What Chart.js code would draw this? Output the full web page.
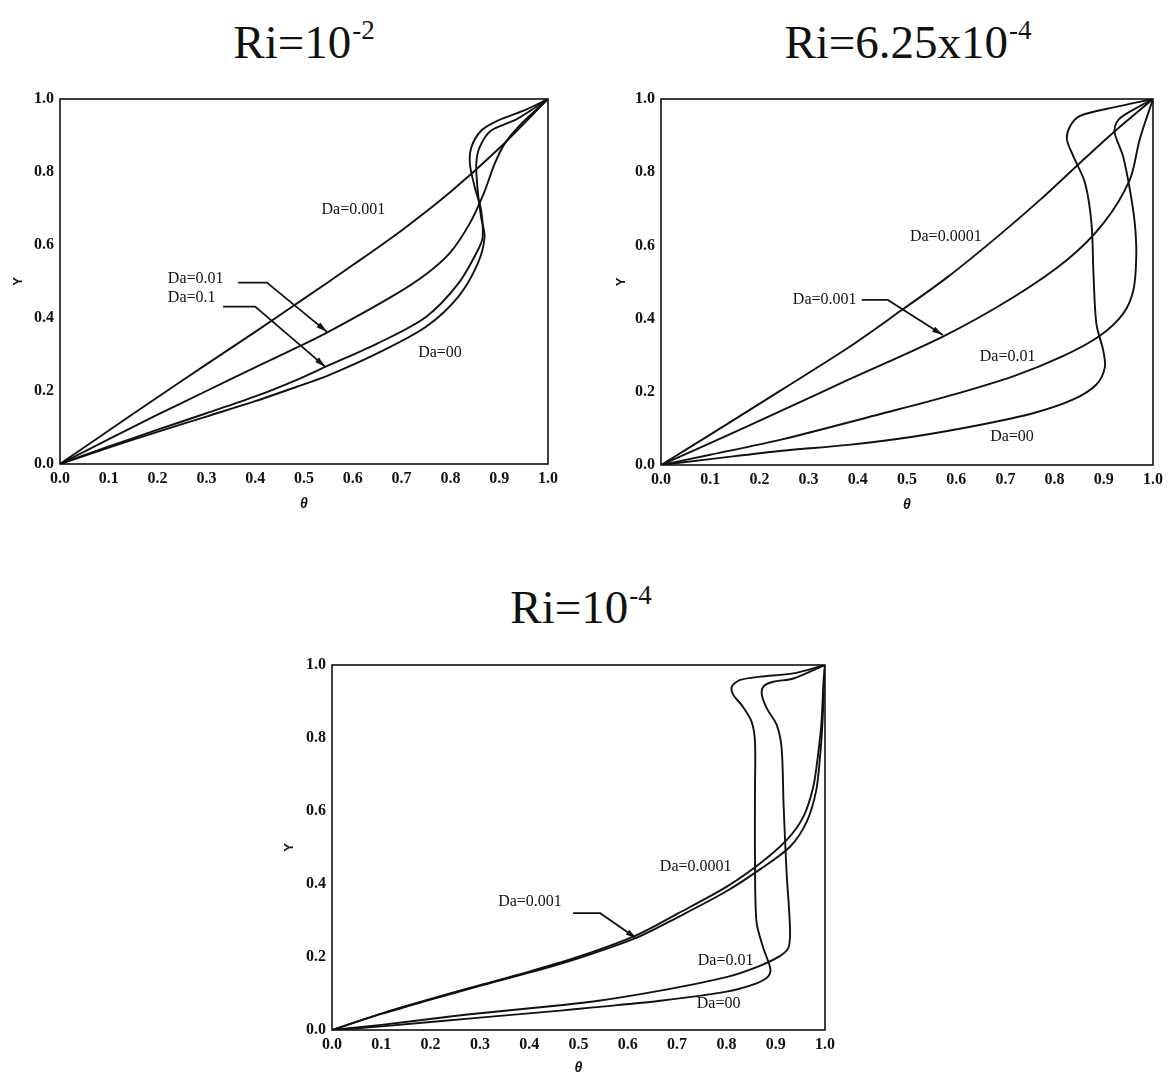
<!DOCTYPE html>
<html>
<head>
<meta charset="utf-8">
<script src="https://cdn.jsdelivr.net/npm/chart.js@4.4.0/dist/chart.umd.min.js"></script>
<style>
    html, body { margin: 0; padding: 0; background: #fff; width: 1171px; height: 1074px; overflow: hidden; }
    .box { position: absolute; }
    .title {
        position: absolute;
        font-family: "Liberation Serif", "Times New Roman", serif;
        font-size: 47px;
        line-height: 1;
        color: #111;
        white-space: nowrap;
        transform: translateX(-50%);
    }
    .title sup { font-size: 27px; vertical-align: 0; position: relative; top: -19px; margin-left: 1px; }
</style>
</head>
<body>
<div class="title" style="left:304px; top:19px;">Ri=10<sup>-2</sup></div>
<div class="title" style="left:908px; top:19px;">Ri=6.25x10<sup>-4</sup></div>
<div class="title" style="left:581px; top:584px;">Ri=10<sup>-4</sup></div>

<div class="box" style="left:0px; top:80px; width:580px; height:440px;"><canvas id="chartA"></canvas></div>
<div class="box" style="left:600px; top:80px; width:571px; height:440px;"><canvas id="chartB"></canvas></div>
<div class="box" style="left:270px; top:645px; width:580px; height:440px;"><canvas id="chartC"></canvas></div>

<script>
// tick values shared by all three panels
const thetaTicks = [0, 0.1, 0.2, 0.3, 0.4, 0.5, 0.6, 0.7, 0.8, 0.9, 1.0];
const yTicks = [0, 0.2, 0.4, 0.6, 0.8, 1.0];

// Ri = 10^-2
const a_da0001_theta = [0, 0.1, 0.2, 0.3, 0.4, 0.5, 0.6, 0.7, 0.8, 0.9, 1];
const a_da0001_y     = [0, 0.092, 0.183, 0.273, 0.362, 0.453, 0.545, 0.64, 0.745, 0.865, 1];
const a_da001_theta  = [0, 0.1, 0.2, 0.3, 0.4, 0.484, 0.55, 0.684, 0.75, 0.8, 0.84, 0.868, 0.89, 0.91, 0.94, 1];
const a_da001_y      = [0, 0.068, 0.135, 0.2, 0.265, 0.318, 0.362, 0.462, 0.52, 0.58, 0.66, 0.74, 0.82, 0.875, 0.925, 1];
const a_da01_theta   = [0, 0.1, 0.2, 0.3, 0.4, 0.484, 0.55, 0.65, 0.75, 0.816, 0.856, 0.866, 0.863, 0.85, 0.84, 0.843, 0.863, 0.896, 0.95, 1];
const a_da01_y       = [0, 0.048, 0.094, 0.139, 0.185, 0.23, 0.27, 0.33, 0.403, 0.494, 0.585, 0.622, 0.695, 0.758, 0.822, 0.868, 0.913, 0.94, 0.968, 1];
const a_da00_theta   = [0, 0.1, 0.2, 0.3, 0.4, 0.484, 0.55, 0.65, 0.75, 0.816, 0.856, 0.87, 0.863, 0.856, 0.853, 0.86, 0.883, 0.936, 1];
const a_da00_y       = [0, 0.045, 0.088, 0.13, 0.172, 0.211, 0.243, 0.303, 0.376, 0.458, 0.549, 0.622, 0.676, 0.749, 0.822, 0.868, 0.913, 0.945, 1];

// Ri = 6.25x10^-4
const b_da00001_theta = [0, 0.1, 0.246, 0.381, 0.488, 0.583, 0.684, 0.771, 0.852, 0.919, 1];
const b_da00001_y     = [0, 0.083, 0.206, 0.321, 0.422, 0.514, 0.624, 0.725, 0.826, 0.908, 1];
const b_da0001_theta  = [0, 0.1, 0.246, 0.381, 0.576, 0.717, 0.825, 0.899, 0.953, 0.973, 1];
const b_da0001_y      = [0, 0.06, 0.149, 0.233, 0.353, 0.459, 0.56, 0.66, 0.78, 0.89, 1];
const b_da001_theta   = [0, 0.1, 0.246, 0.448, 0.583, 0.717, 0.818, 0.892, 0.939, 0.96, 0.966, 0.963, 0.953, 0.939, 0.922, 0.926, 0.939, 1];
const b_da001_y       = [0, 0.028, 0.07, 0.14, 0.188, 0.243, 0.298, 0.353, 0.413, 0.477, 0.569, 0.66, 0.752, 0.844, 0.908, 0.936, 0.954, 1];
const b_da00_theta    = [0, 0.1, 0.246, 0.381, 0.515, 0.65, 0.758, 0.838, 0.885, 0.902, 0.899, 0.885, 0.879, 0.875, 0.862, 0.838, 0.825, 0.832, 0.852, 0.92, 1];
const b_da00_y        = [0, 0.016, 0.039, 0.055, 0.078, 0.11, 0.142, 0.179, 0.22, 0.266, 0.312, 0.385, 0.523, 0.66, 0.77, 0.844, 0.89, 0.927, 0.954, 0.977, 1];

// Ri = 10^-4
const c_da00001_theta = [0, 0.1, 0.2, 0.3, 0.4, 0.503, 0.618, 0.7, 0.8, 0.868, 0.922, 0.956, 0.976, 0.986, 0.993, 0.997, 1];
const c_da00001_y     = [0, 0.045, 0.085, 0.123, 0.16, 0.202, 0.26, 0.318, 0.392, 0.456, 0.52, 0.584, 0.665, 0.755, 0.846, 0.954, 1];
const c_da0001_theta  = [0, 0.1, 0.2, 0.3, 0.4, 0.503, 0.618, 0.7, 0.8, 0.868, 0.929, 0.963, 0.982, 0.99, 0.995, 0.998, 1];
const c_da0001_y      = [0, 0.044, 0.083, 0.121, 0.157, 0.198, 0.253, 0.308, 0.38, 0.44, 0.502, 0.571, 0.655, 0.75, 0.845, 0.95, 1];
const c_da001_theta   = [0, 0.1, 0.24, 0.3, 0.463, 0.53, 0.666, 0.8, 0.868, 0.909, 0.926, 0.929, 0.922, 0.916, 0.912, 0.902, 0.882, 0.872, 0.875, 0.895, 0.936, 1];
const c_da001_y       = [0, 0.014, 0.037, 0.046, 0.068, 0.078, 0.108, 0.145, 0.176, 0.203, 0.226, 0.279, 0.434, 0.616, 0.772, 0.836, 0.881, 0.918, 0.941, 0.954, 0.963, 1];
const c_da00_theta    = [0, 0.1, 0.3, 0.463, 0.53, 0.666, 0.8, 0.861, 0.885, 0.889, 0.875, 0.861, 0.858, 0.858, 0.858, 0.851, 0.831, 0.814, 0.811, 0.828, 0.868, 0.936, 1];
const c_da00_y        = [0, 0.01, 0.034, 0.053, 0.062, 0.08, 0.105, 0.128, 0.147, 0.169, 0.224, 0.297, 0.479, 0.662, 0.79, 0.845, 0.89, 0.918, 0.941, 0.959, 0.968, 0.977, 1];

// curve labels and leader arrows, in (theta, Y) units
const a_notes = {
    labels: [['Da=0.001', 0.536, 0.696], ['Da=0.01', 0.221, 0.507], ['Da=0.1', 0.221, 0.455], ['Da=00', 0.734, 0.305]],
    arrows: [[[0.365, 0.497], [0.424, 0.497], [0.547, 0.362]], [[0.334, 0.431], [0.40, 0.431], [0.544, 0.266]]]
};
const b_notes = {
    labels: [['Da=0.0001', 0.506, 0.624], ['Da=0.001', 0.268, 0.451], ['Da=0.01', 0.648, 0.296], ['Da=00', 0.669, 0.077]],
    arrows: [[[0.408, 0.451], [0.461, 0.451], [0.573, 0.355]]]
};
const c_notes = {
    labels: [['Da=0.0001', 0.665, 0.447], ['Da=0.001', 0.337, 0.352], ['Da=0.01', 0.742, 0.19], ['Da=00', 0.740, 0.072]],
    arrows: [[[0.489, 0.32], [0.544, 0.32], [0.618, 0.251]]]
};

document.addEventListener('DOMContentLoaded', function() {
    initializeCharts();
});

function toPoints(thetas, ys) {
    return thetas.map((t, i) => ({ x: t, y: ys[i] }));
}

// frame + text labels + arrows drawn over the plot
const notesPlugin = {
    id: 'notes',
    afterDatasetsDraw(chart, args, opts) {
        const ctx = chart.ctx;
        const xs = chart.scales.x, ys = chart.scales.y;
        const area = chart.chartArea;
        ctx.save();
        ctx.strokeStyle = '#111';
        ctx.lineWidth = 1.6;
        ctx.strokeRect(area.left, area.top, area.right - area.left, area.bottom - area.top);

        ctx.fillStyle = '#111';
        ctx.font = '16px "Liberation Serif", "Times New Roman", serif';
        ctx.textAlign = 'left';
        ctx.textBaseline = 'middle';
        opts.labels.forEach(l => {
            ctx.fillText(l[0], xs.getPixelForValue(l[1]), ys.getPixelForValue(l[2]));
        });

        opts.arrows.forEach(path => {
            const pts = path.map(p => [xs.getPixelForValue(p[0]), ys.getPixelForValue(p[1])]);
            ctx.lineWidth = 1.8;
            ctx.beginPath();
            ctx.moveTo(pts[0][0], pts[0][1]);
            for (let i = 1; i < pts.length; i++) ctx.lineTo(pts[i][0], pts[i][1]);
            ctx.stroke();
            // arrow head
            const a = pts[pts.length - 2], b = pts[pts.length - 1];
            const ang = Math.atan2(b[1] - a[1], b[0] - a[0]);
            ctx.beginPath();
            ctx.moveTo(b[0], b[1]);
            ctx.lineTo(b[0] - 11 * Math.cos(ang) + 3 * Math.sin(ang), b[1] - 11 * Math.sin(ang) - 3 * Math.cos(ang));
            ctx.lineTo(b[0] - 11 * Math.cos(ang) - 3 * Math.sin(ang), b[1] - 11 * Math.sin(ang) + 3 * Math.cos(ang));
            ctx.closePath();
            ctx.fill();
        });
        ctx.restore();
    }
};

function makeChart(id, curves, notes, box) {
    const ctx = document.getElementById(id).getContext('2d');
    new Chart(ctx, {
        type: 'scatter',
        data: {
            datasets: curves.map(c => ({
                data: toPoints(c[0], c[1]),
                showLine: true,
                borderColor: '#111',
                borderWidth: 1.9,
                pointRadius: 0,
                tension: 0.3,
                fill: false
            }))
        },
        options: {
            responsive: true,
            maintainAspectRatio: false,
            animation: false,
            layout: { padding: { top: box.top, right: box.right, left: 0, bottom: 0 } },
            plugins: {
                legend: { display: false },
                tooltip: { enabled: false },
                notes: notes
            },
            scales: {
                x: {
                    type: 'linear',
                    min: 0,
                    max: 1,
                    afterBuildTicks: axis => { axis.ticks = thetaTicks.map(v => ({ value: v })); },
                    afterFit: scale => { scale.height = box.xh; },
                    grid: { display: false, drawTicks: false },
                    border: { display: false },
                    ticks: {
                        padding: 5,
                        color: '#111',
                        maxRotation: 0,
                        font: { family: '"Liberation Serif", "Times New Roman", serif', size: 16, weight: 'bold' },
                        callback: v => v.toFixed(1)
                    },
                    title: {
                        display: true,
                        text: 'θ',
                        color: '#111',
                        padding: { top: 0, bottom: box.tb },
                        font: { family: '"Liberation Sans", Arial, sans-serif', size: 14, weight: 'bold', style: 'italic' }
                    }
                },
                y: {
                    type: 'linear',
                    min: 0,
                    max: 1,
                    afterBuildTicks: axis => { axis.ticks = yTicks.map(v => ({ value: v })); },
                    afterFit: scale => { scale.width = box.yw; },
                    grid: { display: false, drawTicks: false },
                    border: { display: false },
                    ticks: {
                        padding: 6,
                        color: '#111',
                        font: { family: '"Liberation Serif", "Times New Roman", serif', size: 16, weight: 'bold' },
                        callback: v => v.toFixed(1)
                    },
                    title: {
                        display: true,
                        text: 'Y',
                        color: '#111',
                        padding: { top: box.tl, bottom: 0 },
                        font: { family: '"Liberation Sans", Arial, sans-serif', size: 13, weight: 'bold' }
                    }
                }
            }
        },
        plugins: [notesPlugin]
    });
}

function initializeCharts() {
    // Ri = 10^-2
    makeChart('chartA', [
        [a_da0001_theta, a_da0001_y],
        [a_da001_theta, a_da001_y],
        [a_da01_theta, a_da01_y],
        [a_da00_theta, a_da00_y]
    ], a_notes, { top: 19, right: 32, yw: 60, xh: 56, tb: 7, tl: 11 });

    // Ri = 6.25x10^-4
    makeChart('chartB', [
        [b_da00001_theta, b_da00001_y],
        [b_da0001_theta, b_da0001_y],
        [b_da001_theta, b_da001_y],
        [b_da00_theta, b_da00_y]
    ], b_notes, { top: 19, right: 18, yw: 61, xh: 55, tb: 6, tl: 14 });

    // Ri = 10^-4
    makeChart('chartC', [
        [c_da00001_theta, c_da00001_y],
        [c_da0001_theta, c_da0001_y],
        [c_da001_theta, c_da001_y],
        [c_da00_theta, c_da00_y]
    ], c_notes, { top: 20, right: 25, yw: 62, xh: 55, tb: 8, tl: 12 });
}
</script>
</body>
</html>
